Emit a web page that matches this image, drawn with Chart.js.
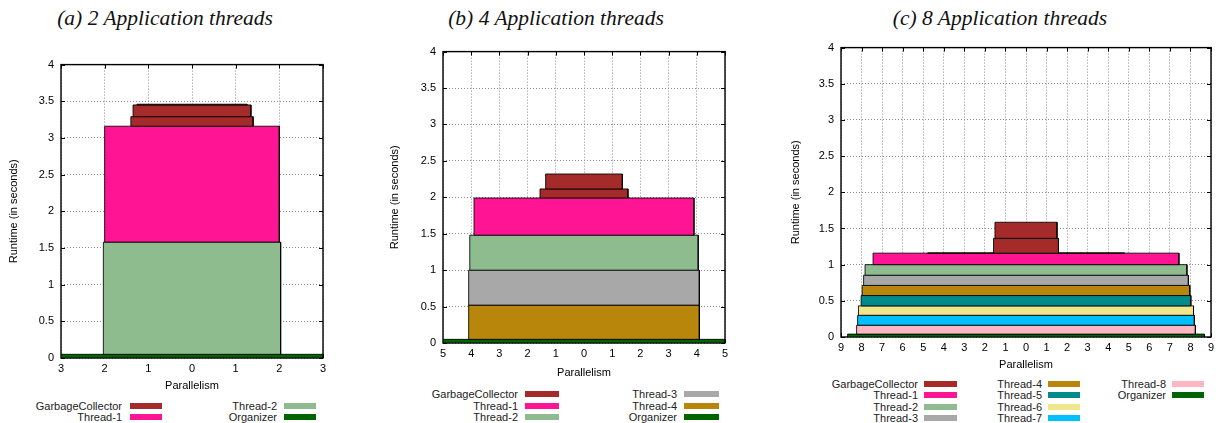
<!DOCTYPE html>
<html>
<head>
<meta charset="utf-8">
<title>Runtime per thread</title>
<script src="https://cdn.jsdelivr.net/npm/chart.js@4.4.1/dist/chart.umd.min.js"></script>
<style>
    body { margin: 0; background: #fff; }
    #page { position: relative; width: 1225px; height: 423px; overflow: hidden; font-family: 'Liberation Sans', Arial, sans-serif; }
    #page canvas { position: absolute; }
    .plot-title { position: absolute; transform: translate(-50%, -50%); white-space: nowrap; font-family: 'Liberation Serif', 'Times New Roman', serif; font-style: italic; font-size: 21.5px; color: #111; }
    .key-text { position: absolute; transform: translate(-100%, -50%); white-space: nowrap; font-size: 11px; line-height: 12px; color: #222; }
    .key-line { position: absolute; height: 6px; margin-top: -3px; }
</style>
</head>
<body>
<div id="page"></div>
<script>
// Values. Every block is [runtime from, runtime to, parallelism]
var yTicks = [0, 0.5, 1, 1.5, 2, 2.5, 3, 3.5, 4];

var seriesColors = {
    'GarbageCollector': '#a52a2a',
    'Thread-1': '#ff1493',
    'Thread-2': '#8fbc8f',
    'Thread-3': '#a8a8a8',
    'Thread-4': '#b8860b',
    'Thread-5': '#008b8b',
    'Thread-6': '#f0e68c',
    'Thread-7': '#00bfff',
    'Thread-8': '#ffb6c1',
    'Organizer': '#006400'
};

// (a) 2 application threads
var a_series = ['GarbageCollector', 'Thread-1', 'Thread-2', 'Organizer'];
var a_Organizer = [[0, 0.05, 3]];
var a_Thread2 = [[0.05, 1.58, 2.03]];
var a_Thread1 = [[1.58, 3.16, 2.0]];
var a_GarbageCollector = [[3.16, 3.29, 1.40], [3.29, 3.45, 1.35], [3.45, 3.46, 1.26]];

// (b) 4 application threads
var b_series = ['GarbageCollector', 'Thread-1', 'Thread-2', 'Thread-3', 'Thread-4', 'Organizer'];
var b_Organizer = [[0, 0.05, 5]];
var b_Thread4 = [[0.05, 0.52, 4.09]];
var b_Thread3 = [[0.52, 1.0, 4.09]];
var b_Thread2 = [[1.0, 1.48, 4.05]];
var b_Thread1 = [[1.48, 1.99, 3.90]];
var b_GarbageCollector = [[1.99, 2.115, 1.56], [2.115, 2.32, 1.36]];

// (c) 8 application threads
var c_series = ['GarbageCollector', 'Thread-1', 'Thread-2', 'Thread-3', 'Thread-4', 'Thread-5', 'Thread-6', 'Thread-7', 'Thread-8', 'Organizer'];
var c_Organizer = [[0, 0.04, 8.68]];
var c_Thread8 = [[0.04, 0.163, 8.24]];
var c_Thread7 = [[0.163, 0.30, 8.19]];
var c_Thread6 = [[0.30, 0.43, 8.15]];
var c_Thread5 = [[0.43, 0.573, 8.02]];
var c_Thread4 = [[0.573, 0.713, 7.97]];
var c_Thread3 = [[0.713, 0.854, 7.90]];
var c_Thread2 = [[0.854, 1.0, 7.83]];
var c_Thread1 = [[1.0, 1.159, 7.44]];
var c_GarbageCollector = [[1.155, 1.163, 4.78], [1.159, 1.364, 1.58], [1.364, 1.586, 1.51]];

var panels = [
    {
        title: '(a) 2 Application threads', xMax: 3, series: a_series,
        blocks: [['Organizer', a_Organizer], ['Thread-2', a_Thread2], ['Thread-1', a_Thread1], ['GarbageCollector', a_GarbageCollector]],
        box: {l: 61, t: 61, r: 323, b: 358, yTitle: 14, xTitle: 386, titleX: 165},
        key: {rows: [406, 417], cols: [[122, 130, 162], [277, 284, 316]]}
    },
    {
        title: '(b) 4 Application threads', xMax: 5, series: b_series,
        blocks: [['Organizer', b_Organizer], ['Thread-4', b_Thread4], ['Thread-3', b_Thread3], ['Thread-2', b_Thread2], ['Thread-1', b_Thread1], ['GarbageCollector', b_GarbageCollector]],
        box: {l: 443, t: 48, r: 725, b: 343, yTitle: 395, xTitle: 373, titleX: 556},
        key: {rows: [394, 405.5, 417], cols: [[518, 525, 559], [677, 684, 719]]}
    },
    {
        title: '(c) 8 Application threads', xMax: 9, series: c_series,
        blocks: [['Organizer', c_Organizer], ['Thread-8', c_Thread8], ['Thread-7', c_Thread7], ['Thread-6', c_Thread6], ['Thread-5', c_Thread5],
                 ['Thread-4', c_Thread4], ['Thread-3', c_Thread3], ['Thread-2', c_Thread2], ['Thread-1', c_Thread1], ['GarbageCollector', c_GarbageCollector]],
        box: {l: 841, t: 44, r: 1211, b: 337, yTitle: 796, xTitle: 365, titleX: 1000},
        key: {rows: [384, 395.3, 406.6, 417.5], cols: [[918, 924, 957], [1042, 1048, 1080], [1166, 1172, 1204]]}
    }
];

var FONT = "'Liberation Sans', Arial, sans-serif";

// gnuplot style frame: solid border and inward tick marks on all four sides
var gnuplotFrame = {
    id: 'gnuplotFrame',
    beforeDatasetsDraw: function(chart) {
        var ctx = chart.ctx, area = chart.chartArea;
        var xs = chart.scales.x, ys = chart.scales.y;
        ctx.save();
        ctx.strokeStyle = '#000';
        ctx.lineWidth = 1;
        ctx.beginPath();
        xs.ticks.forEach(function(t) {
            var px = Math.round(xs.getPixelForValue(t.value)) + 0.5;
            ctx.moveTo(px, area.bottom); ctx.lineTo(px, area.bottom - 4);
            ctx.moveTo(px, area.top); ctx.lineTo(px, area.top + 4);
        });
        ys.ticks.forEach(function(t) {
            var py = Math.round(ys.getPixelForValue(t.value)) + 0.5;
            ctx.moveTo(area.left, py); ctx.lineTo(area.left + 4, py);
            ctx.moveTo(area.right, py); ctx.lineTo(area.right - 4, py);
        });
        ctx.stroke();
        ctx.lineWidth = 1.4;
        ctx.strokeRect(area.left, area.top, area.right - area.left, area.bottom - area.top);
        ctx.restore();
    }
};

function blockDataset(name, block, order)
{
    var from = block[0], to = block[1], p = block[2];
    return {
        label: name,
        data: [{x: -p, y: from}, {x: -p, y: to}, {x: p, y: to}, {x: p, y: from}, {x: -p, y: from}],
        showLine: true,
        fill: 'shape',
        backgroundColor: seriesColors[name],
        borderColor: 'rgba(0,0,0,0.85)',
        borderWidth: 1,
        pointRadius: 0,
        tension: 0,
        order: order
    };
}

function drawPanel(panel)
{
    var page = document.getElementById('page');
    var box = panel.box;

    // title
    var title = document.createElement('div');
    title.className = 'plot-title';
    title.style.left = box.titleX + 'px';
    title.style.top = '18px';
    title.textContent = panel.title;
    page.appendChild(title);

    // canvas sized so the plot area lands on box
    var left = box.yTitle - 9;
    var top = box.t - 10;
    var width = box.r + 12 - left;
    var bottom = box.xTitle + 9;
    var height = bottom - top;

    var canvas = document.createElement('canvas');
    canvas.width = width;
    canvas.height = height;
    canvas.style.left = left + 'px';
    canvas.style.top = top + 'px';
    page.appendChild(canvas);

    var datasets = [];
    var n = 0;
    panel.blocks.forEach(function(entry) {
        entry[1].forEach(function(block) {
            datasets.push(blockDataset(entry[0], block, -n));
            n++;
        });
    });

    new Chart(canvas, {
        type: 'scatter',
        data: {datasets: datasets},
        options: {
            responsive: false,
            animation: false,
            devicePixelRatio: 1,
            layout: {padding: {top: 10, right: 12, bottom: 0, left: 0}},
            plugins: {
                legend: {display: false},
                tooltip: {enabled: false}
            },
            scales: {
                x: {
                    type: 'linear',
                    min: -panel.xMax,
                    max: panel.xMax,
                    grid: {color: '#8c8c8c', lineWidth: 1, drawTicks: false},
                    border: {display: false, dash: [1, 2]},
                    ticks: {
                        stepSize: 1, autoSkip: false, padding: 4.5, color: '#000',
                        font: {family: FONT, size: 11},
                        callback: function(v) { return String(Math.abs(v)); }
                    },
                    title: {display: true, text: 'Parallelism', color: '#000', font: {family: FONT, size: 11}, padding: {top: 0, bottom: 2.4}},
                    afterFit: function(scale) { scale.height = bottom - box.b; }
                },
                y: {
                    type: 'linear',
                    min: 0,
                    max: 4,
                    grid: {color: '#8c8c8c', lineWidth: 1, drawTicks: false},
                    border: {display: false, dash: [1, 2]},
                    afterBuildTicks: function(scale) {
                        scale.ticks = yTicks.map(function(v) { return {value: v}; });
                    },
                    ticks: {
                        padding: 7, color: '#000',
                        font: {family: FONT, size: 11},
                        callback: function(v) { return String(v); }
                    },
                    title: {display: true, text: 'Runtime (in seconds)', color: '#000', font: {family: FONT, size: 11}, padding: {top: 2.4, bottom: 0}},
                    afterFit: function(scale) { scale.width = box.l - left; }
                }
            }
        },
        plugins: [gnuplotFrame]
    });

    // key, filled column by column like gnuplot does
    var rows = panel.key.rows.length;
    panel.series.forEach(function(name, i) {
        var col = panel.key.cols[Math.floor(i / rows)];
        var y = panel.key.rows[i % rows];

        var text = document.createElement('div');
        text.className = 'key-text';
        text.style.left = col[0] + 'px';
        text.style.top = y + 'px';
        text.textContent = name;
        page.appendChild(text);

        var line = document.createElement('div');
        line.className = 'key-line';
        line.style.left = col[1] + 'px';
        line.style.top = y + 'px';
        line.style.width = (col[2] - col[1]) + 'px';
        line.style.background = seriesColors[name];
        page.appendChild(line);
    });
}

panels.forEach(drawPanel);
</script>
</body>
</html>
